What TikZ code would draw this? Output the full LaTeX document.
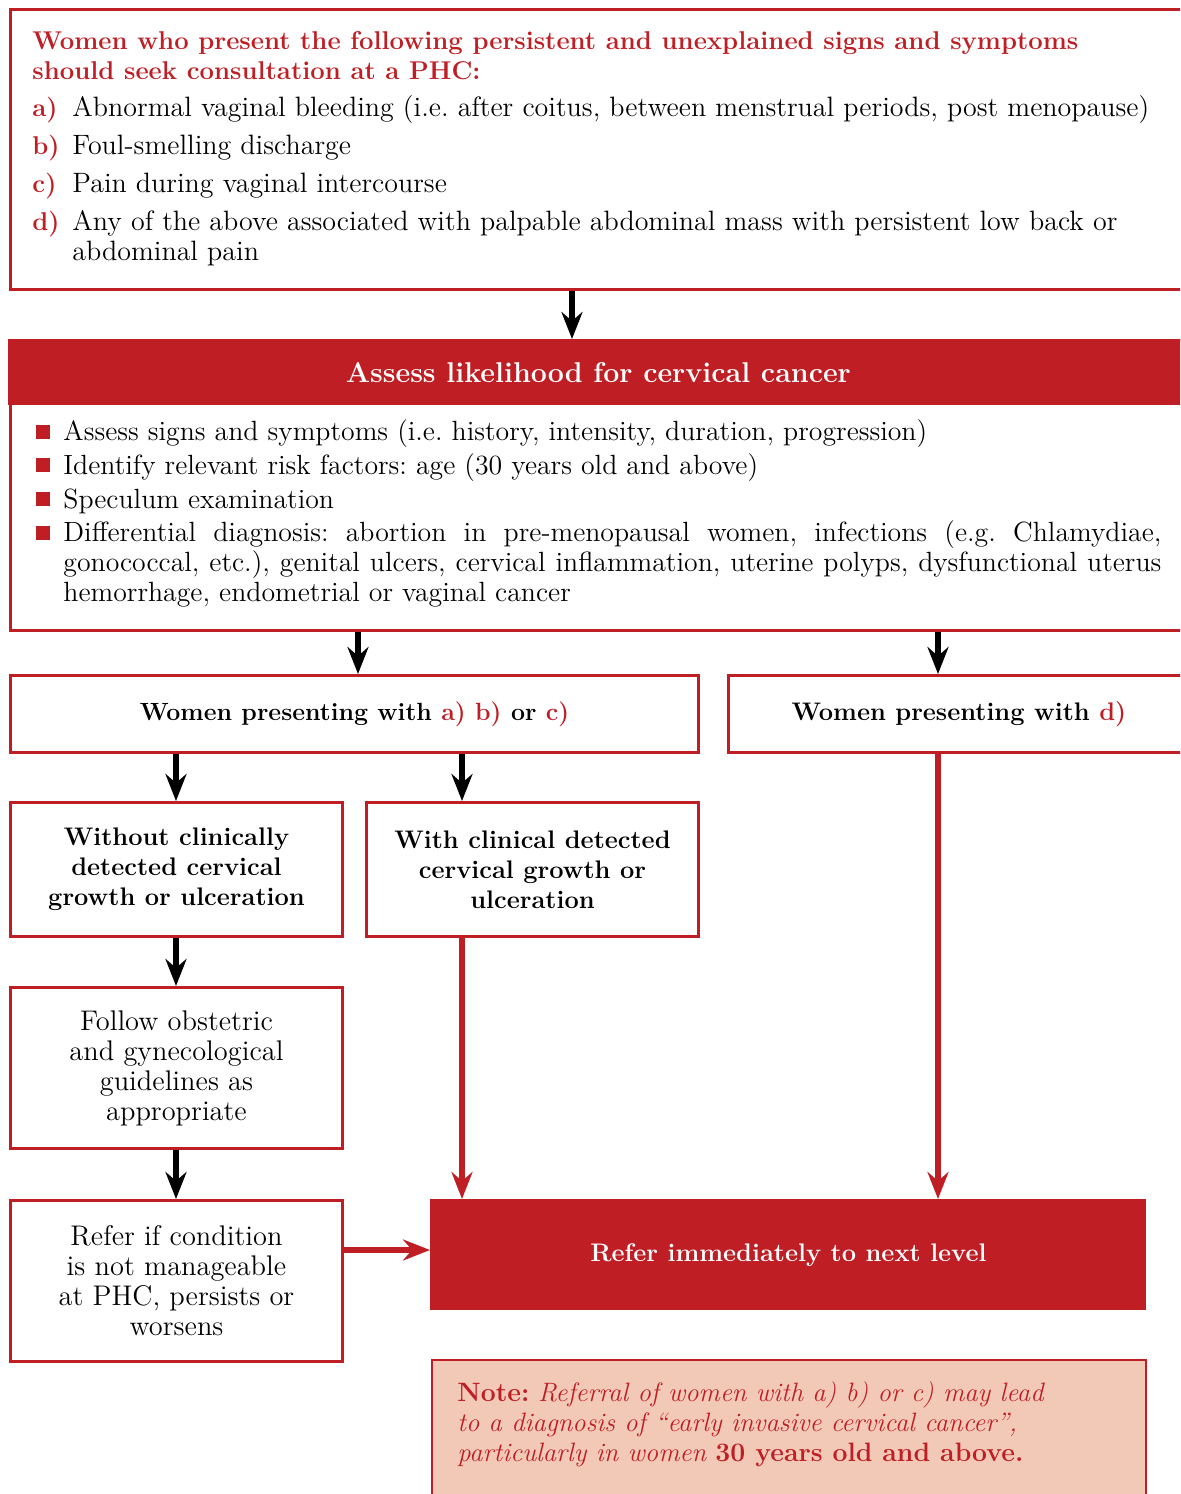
\documentclass[tikz,border=0pt]{standalone}
\usepackage{fontspec}
\usetikzlibrary{arrows.meta}
\definecolor{cred}{RGB}{190,30,36}
\definecolor{cpeach}{RGB}{242,200,182}
\frenchspacing
\newcommand\ftop{\fontsize{14}{15}\selectfont}
\newcommand\fbody{\fontsize{13.9}{15}\selectfont}
\newcommand\fbold{\fontsize{12.7}{15}\selectfont\bfseries}
\newcommand\fheadline{\fontsize{12.85}{15}\selectfont\bfseries}
\newcommand\fbig{\fontsize{14.3}{15}\selectfont\bfseries}
\newcommand\fbone{\fontsize{12.45}{15}\selectfont\bfseries}
\newcommand\freg{\fontsize{14.2}{15}\selectfont}
\newcommand\fnote{\fontsize{13.3}{15}\selectfont}
\begin{document}
\begin{tikzpicture}[x=0.5pt,y=-0.5pt,
  box/.style={draw=cred,line width=1.5pt,inner sep=0pt,anchor=north west},
  rbox/.style={fill=cred,inner sep=0pt,anchor=north west},
  txt/.style={anchor=base west,inner sep=0pt},
  lab/.style={txt,text=cred,font=\fheadline},
  itm/.style={txt,font=\ftop},
  bitm/.style={txt,font=\fbody},
  bul/.style={fill=cred,minimum size=7.3pt,inner sep=0pt},
  arr/.style={line width=2.6pt,-{Stealth[length=13.5pt,width=10.5pt,inset=4.5pt]}},
]
\useasboundingbox (0,0) rectangle (1180,1494);
\clip (0,0) rectangle (1180,1494);
% ---------- top box
\node[box,minimum width=589.5pt,minimum height=140pt] (top) at (9,8) {};
\node[lab] (h1) at (32,49) {Women who present the following persistent and unexplained signs and symptoms};
\node[lab] (h2) at (32,79) {should seek consultation at a PHC:};
\node[lab] (la) at (32,116) {a)};
\node[itm] (ta) at (72,116) {Abnormal vaginal bleeding (i.e. after coitus, between menstrual periods, post menopause)};
\node[lab] (lb) at (32,154) {b)};
\node[itm] (tb) at (72,154) {Foul-smelling discharge};
\node[lab] (lc) at (32,192) {c)};
\node[itm] (tc) at (72,192) {Pain during vaginal intercourse};
\node[lab] (ld) at (32,230) {d)};
\node[itm] (td) at (72,230) {Any of the above associated with palpable abdominal mass with persistent low back or};
\node[itm] (td2) at (72,260) {abdominal pain};
% ---------- assess box
\node[box,minimum width=589.5pt,minimum height=145pt] (abody) at (9,339) {};
\node[rbox,minimum width=590pt,minimum height=33pt,text=white,font=\fbig] (ahead) at (8,339) {Assess likelihood for cervical cancer};
\node[bul] (q1) at (43,432) {};
\node[bul] (q2) at (43,465) {};
\node[bul] (q3) at (43,499) {};
\node[bul] (q4) at (43,533) {};
\node[bitm] (s1) at (63,440) {Assess signs and symptoms (i.e. history, intensity, duration, progression)};
\node[bitm] (s2) at (63,474) {Identify relevant risk factors: age (30 years old and above)};
\node[bitm] (s3) at (63,508) {Speculum examination};
\node[bitm] (s4) at (63,541) {\makebox[549pt][s]{Differential diagnosis: abortion in pre-menopausal women, infections (e.g. Chlamydiae,}};
\node[bitm] (s5) at (63,571) {\makebox[549pt][s]{gonococcal, etc.), genital ulcers, cervical inflammation, uterine polyps, dysfunctional uterus}};
\node[bitm] (s6) at (63,601) {hemorrhage, endometrial or vaginal cancer};
% ---------- second row
\node[box,minimum width=344pt,minimum height=38.5pt,font=\fbone] (b1) at (9,674) {Women presenting with \textcolor{cred}{a) b)} or \textcolor{cred}{c)}};
\node[box,minimum width=230.5pt,minimum height=38.5pt,font=\fbold] (b2) at (727,674) {Women presenting with \textcolor{cred}{d)}};
% ---------- third row
\node[box,minimum width=166pt,minimum height=67pt,font=\fbold,align=center] (b3) at (9,801) {Without clinically\\detected cervical\\growth or ulceration};
\node[box,minimum width=166pt,minimum height=67pt,font=\fbold,align=center] (b4) at (365,801) {With clinical detected\\cervical growth or\\ulceration};
\node[box,minimum width=166pt,minimum height=80.5pt,font=\freg,align=center] (b5) at (9,986) {Follow obstetric\\and gynecological\\guidelines as\\appropriate};
\node[box,minimum width=166pt,minimum height=80.5pt,font=\freg,align=center] (b6) at (9,1199) {Refer if condition\\is not manageable\\at PHC, persists or\\worsens};
\node[rbox,minimum width=358pt,minimum height=55.5pt,text=white,font=\fbold] (b7) at (430,1199) {Refer immediately to next level};
% ---------- note
\node[box,fill=cpeach,line width=1.2pt,minimum width=357pt,minimum height=82pt] (note) at (431,1359) {};
\node[anchor=west,align=left,inner sep=0pt,text=cred,font=\fnote] (nt) at (457,1424)
 {\textbf{Note:} \textit{Referral of women with a) b) or c) may lead}\\
  \textit{to a diagnosis of “early invasive cervical cancer”,}\\
  \textit{particularly in women} \textbf{30 years old and above.}};
% ---------- connectors
\coordinate (xA) at (572,0);
\coordinate (xB) at (358,0);
\coordinate (xC) at (938,0);
\coordinate (xD) at (176,0);
\coordinate (xE) at (462,0);
\coordinate (yR) at (0,1250);
\draw[arr] (top.south -| xA) -- (ahead.north -| xA);
\draw[arr] (abody.south -| xB) -- (b1.north -| xB);
\draw[arr] (abody.south -| xC) -- (b2.north -| xC);
\draw[arr] (b1.south -| xD) -- (b3.north -| xD);
\draw[arr] (b1.south -| xE) -- (b4.north -| xE);
\draw[arr] (b3.south -| xD) -- (b5.north -| xD);
\draw[arr] (b5.south -| xD) -- (b6.north -| xD);
\draw[arr,cred] (b4.south -| xE) -- (b7.north -| xE);
\draw[arr,cred] (b2.south -| xC) -- (b7.north -| xC);
\draw[arr,cred] (b6.east |- yR) -- (b7.west |- yR);
\end{tikzpicture}
\end{document}
